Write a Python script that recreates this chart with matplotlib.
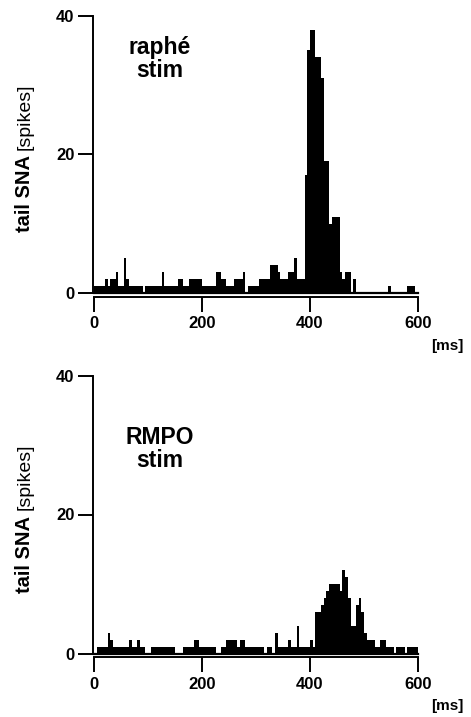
import numpy as np
import matplotlib
matplotlib.use('Agg')
from matplotlib import pyplot as plt

plt.rcParams['font.family'] = ['Liberation Sans', 'DejaVu Sans']

# 5 ms bins, 0-600 ms
bin_ms = np.arange(0, 600, 5)

raphe_counts = [
	1, 1, 1, 1, 2, 1, 2, 2, 3, 1,
	1, 5, 2, 1, 1, 1, 1, 1, 0, 1,
	1, 1, 1, 1, 1, 3, 1, 1, 1, 1,
	1, 2, 2, 1, 1, 2, 2, 2, 2, 2,
	1, 1, 1, 1, 1, 3, 3, 2, 2, 1,
	1, 1, 2, 2, 2, 3, 0, 1, 1, 1,
	1, 2, 2, 2, 2, 4, 4, 4, 3, 2,
	2, 2, 3, 3, 5, 2, 2, 2, 17, 35,
	38, 38, 34, 34, 31, 19, 19, 10, 11, 11,
	11, 3, 2, 3, 3, 0, 2, 0, 0, 0,
	0, 0, 0, 0, 0, 0, 0, 0, 0, 1,
	0, 0, 0, 0, 0, 0, 1, 1, 1, 0,
]

rmpo_counts = [
	0, 1, 1, 1, 1, 3, 2, 1, 1, 1,
	1, 1, 1, 2, 1, 1, 2, 1, 1, 0,
	0, 1, 1, 1, 1, 1, 1, 1, 1, 1,
	0, 0, 0, 1, 1, 1, 1, 2, 2, 1,
	1, 1, 1, 1, 1, 0, 0, 1, 1, 2,
	2, 2, 2, 1, 2, 2, 1, 1, 1, 1,
	1, 1, 1, 0, 1, 1, 0, 3, 1, 1,
	1, 1, 2, 1, 1, 4, 1, 1, 1, 1,
	2, 1, 6, 6, 7, 8, 9, 10, 10, 10,
	10, 9, 12, 11, 8, 4, 4, 7, 8, 6,
	3, 2, 2, 2, 1, 1, 2, 2, 1, 1,
	1, 0, 1, 1, 1, 0, 1, 1, 1, 1,
]

# title, counts, pixel row of y=0, pixel row of y=40, title y (data)
panels = [('raphé\nstim', raphe_counts, 293.0, 15.7, 33.8),
		('RMPO\nstim', rmpo_counts, 653.5, 375.5, 29.4)]

W, H = 471, 717
fig = plt.figure(figsize=(W / 100, H / 100), dpi=100)

for title, counts, y0, y40, ty in panels:
	ax = fig.add_axes([94 / W, 1 - y0 / H, 324 / W, (y0 - y40) / H])
	ax.bar(bin_ms, counts, width=5, align='edge', color='black', linewidth=0)
	ax.axhline(0, color='black', lw=1.6, clip_on=False, zorder=3)
	ax.set_xlim(0, 600)
	ax.set_ylim(0, 40)
	ax.set_xticks([0, 200, 400, 600])
	ax.set_yticks([0, 20, 40])
	for s in ('top', 'right'):
		ax.spines[s].set_visible(False)
	ax.spines['left'].set_position(('outward', 1))
	ax.spines['left'].set_bounds(0, 40)
	ax.spines['bottom'].set_position(('outward', 2.6))
	ax.spines['bottom'].set_bounds(0, 600)
	for s in ('left', 'bottom'):
		ax.spines[s].set_linewidth(1.4)
	ax.tick_params(axis='both', length=11, width=1.4, labelsize=12)
	ax.tick_params(axis='y', pad=2)
	ax.tick_params(axis='x', pad=3)
	for lbl in ax.get_xticklabels() + ax.get_yticklabels():
		lbl.set_fontweight('bold')
	ax.text(122, ty, title, ha='center', va='center', fontsize=16.5,
		fontweight='bold', linespacing=1.0)
	ax.text(1.09, -0.19, '[ms]', transform=ax.transAxes, ha='center', va='center',
		fontsize=11, fontweight='bold')
	# y label: bold part + regular part
	fig.text(25 / W, 1 - (y0 - 60.5) / H, 'tail SNA', rotation=90, ha='center', va='bottom',
		fontsize=14.5, fontweight='bold')
	fig.text(25 / W, 1 - (y0 - 143.5) / H, '[spikes]', rotation=90, ha='center', va='bottom',
		fontsize=14)

fig.savefig('out.png', dpi=100)
